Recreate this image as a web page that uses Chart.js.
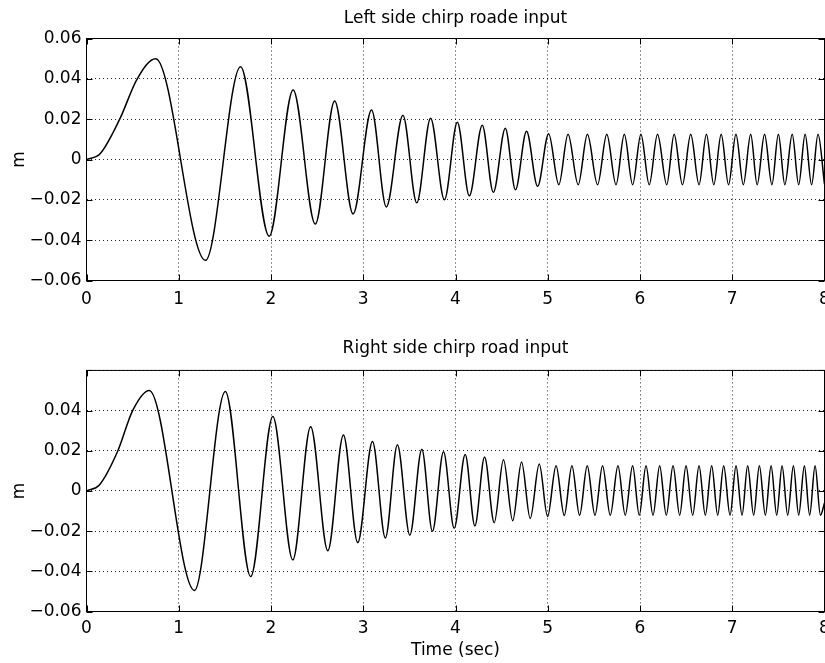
<!DOCTYPE html>
<html>
<head>
<meta charset="utf-8">
<title>Chirp road input</title>
<script src="https://cdn.jsdelivr.net/npm/chart.js@4.4.1/dist/chart.umd.min.js"></script>
<style>
  html, body { margin: 0; padding: 0; background: #fff; overflow: hidden; }
  .panel { position: absolute; left: 0; width: 840px; }
  #topPanel { top: 0; height: 320px; }
  #bottomPanel { top: 320px; height: 343px; }
</style>
</head>
<body>
<div class="panel" id="topPanel"><canvas id="leftChart"></canvas></div>
<div class="panel" id="bottomPanel"><canvas id="rightChart"></canvas></div>
<script>
// Peaks and troughs (time in sec, displacement in m)
const leftTime = [0, 0.15, 0.36, 0.55, 0.75, 1.29, 1.67, 1.98, 2.24, 2.48, 2.69, 2.89, 3.09, 3.25, 3.43, 3.58, 3.73, 3.88, 4.02, 4.15, 4.29,
  4.41, 4.54, 4.65, 4.77, 4.89, 5.01, 5.12, 5.22, 5.33, 5.43, 5.54, 5.64, 5.74, 5.83, 5.92, 6.01, 6.10, 6.19, 6.29, 6.37,
  6.46, 6.55, 6.64, 6.72, 6.80, 6.88, 6.96, 7.04, 7.12, 7.20, 7.27, 7.35, 7.43, 7.50, 7.57, 7.65, 7.72, 7.79, 7.86, 7.93, 8.00];
const leftValue = [0, 0.003, 0.020, 0.040, 0.050, -0.050, 0.046, -0.038, 0.0345, -0.032, 0.029, -0.027, 0.0245, -0.0235, 0.022, -0.0215, 0.0205, -0.020, 0.0185, -0.018, 0.017,
  -0.0163, 0.0155, -0.015, 0.014, -0.0133, 0.0128, -0.0125, 0.0125, -0.0125, 0.0125, -0.0125, 0.0125, -0.0125, 0.0125, -0.0125, 0.0125, -0.0125, 0.0125, -0.0125, 0.0125,
  -0.0125, 0.0125, -0.0125, 0.0125, -0.0125, 0.0125, -0.0125, 0.0125, -0.0125, 0.0125, -0.0125, 0.0125, -0.0125, 0.0125, -0.0125, 0.0125, -0.0125, 0.0125, -0.0125, 0.0125, -0.0122];

const rightTime = [0, 0.14, 0.34, 0.50, 0.68, 1.17, 1.505, 1.78, 2.02, 2.236, 2.43, 2.616, 2.785, 2.94, 3.10, 3.24, 3.37, 3.505, 3.635, 3.75, 3.87,
  3.986, 4.105, 4.21, 4.315, 4.42, 4.52, 4.62, 4.716, 4.81, 4.908, 4.998, 5.09, 5.179, 5.262, 5.345, 5.428, 5.512, 5.594, 5.678, 5.761,
  5.84, 5.92, 5.992, 6.065, 6.141, 6.213, 6.285, 6.358, 6.43, 6.499, 6.571, 6.64, 6.708, 6.777, 6.842, 6.907, 6.976, 7.041, 7.106, 7.167,
  7.232, 7.294, 7.359, 7.421, 7.482, 7.54, 7.601, 7.663, 7.72, 7.782, 7.839, 7.898, 7.956, 8.0];
const rightValue = [0, 0.003, 0.020, 0.040, 0.050, -0.0495, 0.0495, -0.0426, 0.037, -0.0343, 0.032, -0.0298, 0.0279, -0.0257, 0.0246, -0.0234, 0.023, -0.022, 0.0208, -0.0201, 0.0195,
  -0.0186, 0.0182, -0.0174, 0.0169, -0.0158, 0.0155, -0.0148, 0.0144, -0.0137, 0.0134, -0.0127, 0.0126, -0.0122, 0.0125, -0.0121, 0.0125, -0.0121, 0.0125, -0.0121, 0.0125,
  -0.0121, 0.0125, -0.0121, 0.0125, -0.0121, 0.0125, -0.0121, 0.0125, -0.0121, 0.0125, -0.0121, 0.0125, -0.0121, 0.0125, -0.0121, 0.0125, -0.0121, 0.0125, -0.0121, 0.0125,
  -0.0121, 0.0125, -0.0121, 0.0125, -0.0121, 0.0125, -0.0121, 0.0125, -0.0121, 0.0125, -0.0121, 0.0125, -0.0121, -0.006];

const timeTicks = [0, 1, 2, 3, 4, 5, 6, 7, 8];
const mTicks = [-0.06, -0.04, -0.02, 0, 0.02, 0.04, 0.06];

Chart.defaults.font.family = "'DejaVu Sans', sans-serif";
Chart.defaults.font.size = 17;
Chart.defaults.color = '#000';

// MATLAB style box with inward tick marks
const framePlugin = {
  id: 'frame',
  afterDraw(chart) {
    const { ctx, chartArea: a, scales } = chart;
    const len = 6;
    ctx.save();
    ctx.strokeStyle = '#000';
    ctx.lineWidth = 1;
    ctx.beginPath();
    timeTicks.forEach(t => {
      const px = Math.round(scales.x.getPixelForValue(t)) + 0.5;
      ctx.moveTo(px, a.bottom); ctx.lineTo(px, a.bottom - len);
      ctx.moveTo(px, a.top); ctx.lineTo(px, a.top + len);
    });
    mTicks.forEach(v => {
      const py = Math.round(scales.y.getPixelForValue(v)) + 0.5;
      ctx.moveTo(a.left, py); ctx.lineTo(a.left + len, py);
      ctx.moveTo(a.right, py); ctx.lineTo(a.right - len, py);
    });
    ctx.stroke();
    ctx.strokeRect(a.left, a.top, a.right - a.left, a.bottom - a.top);
    ctx.restore();
  }
};

function fmt(v) {
  if (Math.abs(v) < 1e-9) return '0';
  return (v < 0 ? '\u2212' : '') + Math.abs(v).toFixed(2);
}

function makeChart(canvasId, times, values, title, opts) {
  const points = times.map((t, i) => ({ x: t, y: values[i] }));
  return new Chart(document.getElementById(canvasId), {
    type: 'line',
    data: {
      datasets: [{
        data: points,
        borderColor: '#000',
        borderWidth: 1.5,
        pointRadius: 0,
        fill: false,
        cubicInterpolationMode: 'monotone'
      }]
    },
    options: {
      responsive: true,
      maintainAspectRatio: false,
      devicePixelRatio: 1,
      animation: false,
      layout: { padding: { left: 0, right: 15.5, top: 0, bottom: 0 } },
      plugins: {
        legend: { display: false },
        tooltip: { enabled: false },
        title: {
          display: true,
          text: title,
          fullSize: false,
          color: '#000',
          font: { size: 17, weight: 'normal' },
          padding: opts.titlePadding
        }
      },
      scales: {
        x: {
          type: 'linear',
          min: 0,
          max: 8,
          afterBuildTicks: s => { s.ticks = timeTicks.map(v => ({ value: v })); },
          afterFit: s => { s.height = opts.xHeight; },
          ticks: { padding: opts.xPad, maxRotation: 0, autoSkip: false, callback: v => String(v) },
          grid: { color: 'rgba(0,0,0,0.85)', lineWidth: 1, drawTicks: false },
          border: { display: false, dash: [1, 3] },
          title: {
            display: !!opts.xTitle,
            text: opts.xTitle || '',
            padding: { top: 0, bottom: 2.5 }
          }
        },
        y: {
          type: 'linear',
          min: -0.06,
          max: 0.06,
          afterBuildTicks: s => { s.ticks = mTicks.map(v => ({ value: v })); },
          afterFit: s => { s.width = 86.5; },
          ticks: {
            padding: 5,
            autoSkip: false,
            callback: v => (opts.hideTop && v > 0.059) ? '' : fmt(v)
          },
          grid: { color: 'rgba(0,0,0,0.85)', lineWidth: 1, drawTicks: false },
          border: { display: false, dash: [1, 3] },
          title: { display: true, text: 'm', padding: { top: 9, bottom: 0 } }
        }
      }
    },
    plugins: [framePlugin]
  });
}

makeChart('leftChart', leftTime, leftValue, 'Left side chirp roade input', {
  titlePadding: { top: 8.5, bottom: 9.6 },
  xHeight: 39.5,
  xPad: 8.5,
  hideTop: false
});

makeChart('rightChart', rightTime, rightValue, 'Right side chirp road input', {
  titlePadding: { top: 18.8, bottom: 11.2 },
  xHeight: 51.5,
  xPad: 7,
  xTitle: 'Time (sec)',
  hideTop: true
});
</script>
</body>
</html>
